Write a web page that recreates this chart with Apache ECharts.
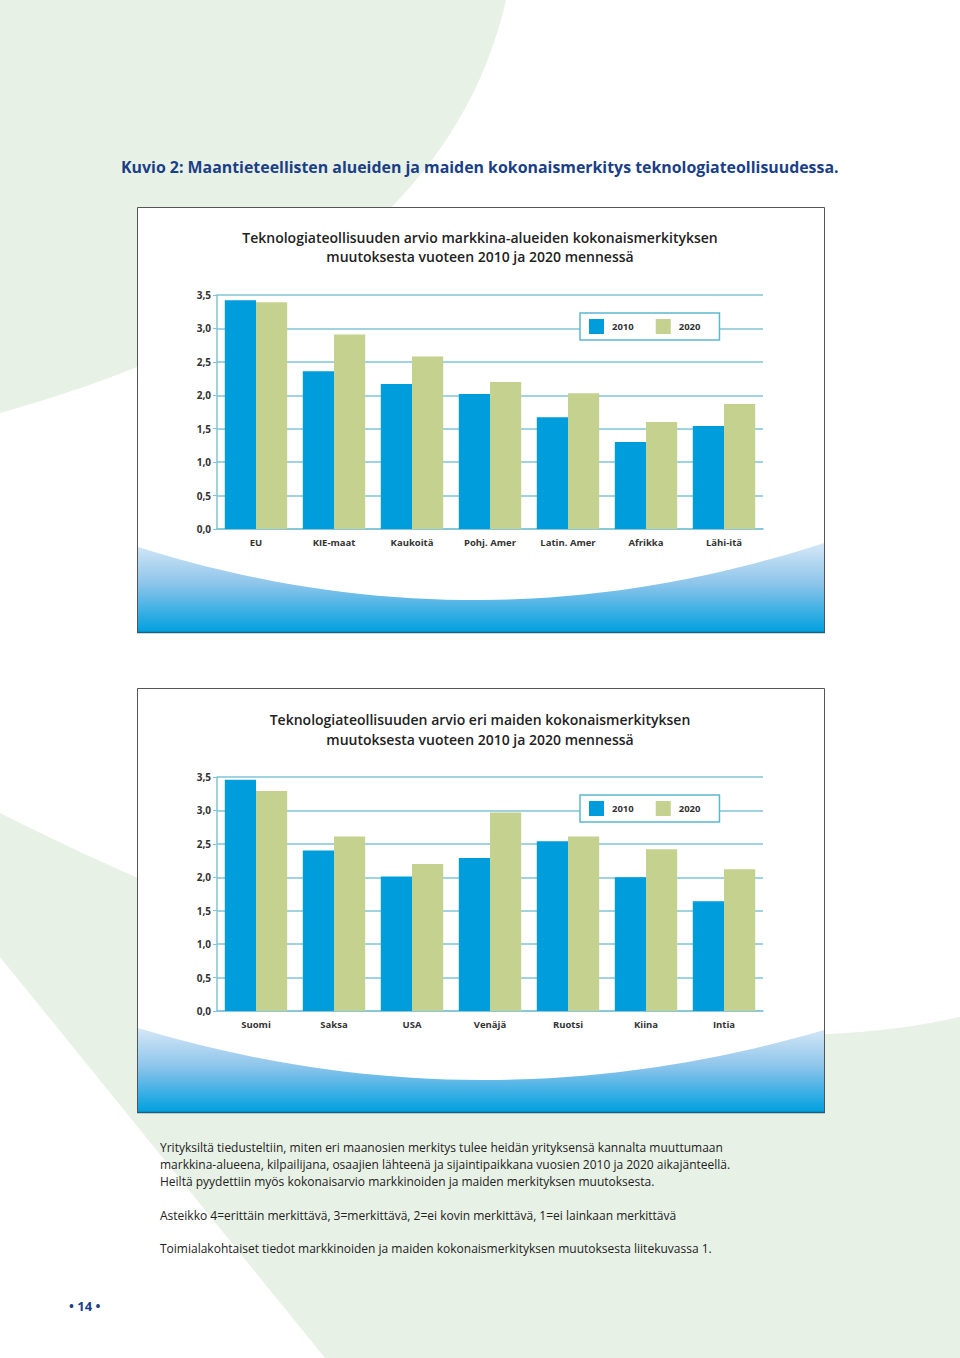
<!DOCTYPE html>
<html>
<head>
<meta charset="utf-8">
<script src="https://cdn.jsdelivr.net/npm/echarts@6/dist/echarts.min.js"></script>
<style>
  html, body { margin: 0; padding: 0; background: #fff; }
  #page { width: 960px; height: 1358px; }
</style>
</head>
<body>
<div id="page"></div>
<script>
// data
const years = ['2010', '2020']
const regions = ['EU', 'KIE-maat', 'Kaukoitä', 'Pohj. Amer', 'Latin. Amer', 'Afrikka', 'Lähi-itä']
const regions2010 = [3.42, 2.36, 2.17, 2.02, 1.67, 1.30, 1.54]
const regions2020 = [3.39, 2.91, 2.58, 2.20, 2.03, 1.60, 1.87]
const countries = ['Suomi', 'Saksa', 'USA', 'Venäjä', 'Ruotsi', 'Kiina', 'Intia']
const countries2010 = [3.46, 2.40, 2.01, 2.29, 2.54, 2.00, 1.64]
const countries2020 = [3.29, 2.61, 2.20, 2.97, 2.61, 2.42, 2.12]
const yTickLabels = ['0,0', '0,5', '1,0', '1,5', '2,0', '2,5', '3,0', '3,5']

const FONT = '"Open Sans", "Noto Sans", sans-serif'
const BLUE = '#009ddc'
const GREEN = '#c5d18f'
const TEAL = '#82c3d6'
const PAGE_GREEN = '#e8f1e6'

function xAxisFor(gridIndex, cats) {
  return {
    type: 'category',
    gridIndex: gridIndex,
    data: cats,
    axisLine: { lineStyle: { color: TEAL, width: 1.5 } },
    axisTick: { inside: true, length: 5, lineStyle: { color: TEAL } },
    axisLabel: { color: '#333', fontSize: 9.5, fontWeight: 'bold', fontFamily: FONT, margin: 8 }
  }
}

function yAxisFor(gridIndex) {
  return {
    type: 'value',
    gridIndex: gridIndex,
    min: 0,
    max: 3.5,
    interval: 0.5,
    axisLine: { show: true, lineStyle: { color: TEAL, width: 1.5 } },
    axisTick: { show: true, length: 4, lineStyle: { color: TEAL } },
    splitLine: { lineStyle: { color: TEAL, width: 1.5 } },
    axisLabel: {
      color: '#333', fontSize: 10, fontWeight: 'bold', fontFamily: FONT, margin: 6,
      formatter: v => yTickLabels[Math.round(v / 0.5)]
    }
  }
}

function legendAt(top) {
  return {
    left: 580,
    top: top,
    data: years,
    icon: 'rect',
    itemWidth: 15,
    itemHeight: 15,
    itemGap: 22,
    padding: [6, 19, 6, 9],
    backgroundColor: '#fff',
    borderColor: '#5cb7cf',
    borderWidth: 1.5,
    borderRadius: 0,
    selectedMode: false,
    textStyle: { color: '#333', fontSize: 9.5, fontWeight: 'bold', fontFamily: FONT, padding: [0, 0, 0, 3] }
  }
}

function barSeries(name, color, idx, values) {
  return {
    name: name,
    type: 'bar',
    xAxisIndex: idx,
    yAxisIndex: idx,
    barGap: '0%',
    barCategoryGap: '20%',
    itemStyle: { color: color },
    data: values
  }
}

function text(str, x, y, font, fill, align) {
  return {
    type: 'text',
    z: 10,
    style: { text: str, x: x, y: y, font: font, fill: fill, textAlign: align || 'left', textVerticalAlign: 'middle' }
  }
}

// points along a cubic bezier, for the decorative page shapes
function bezier(p0, p1, p2, p3, n) {
  const pts = []
  for (let i = 0; i <= n; i++) {
    const t = i / n, u = 1 - t
    pts.push([
      u * u * u * p0[0] + 3 * u * u * t * p1[0] + 3 * u * t * t * p2[0] + t * t * t * p3[0],
      u * u * u * p0[1] + 3 * u * u * t * p1[1] + 3 * u * t * t * p2[1] + t * t * t * p3[1]
    ])
  }
  return pts
}
function quad(p0, p1, p2, n) {
  return bezier(p0,
    [p0[0] + 2 / 3 * (p1[0] - p0[0]), p0[1] + 2 / 3 * (p1[1] - p0[1])],
    [p2[0] + 2 / 3 * (p1[0] - p2[0]), p2[1] + 2 / 3 * (p1[1] - p2[1])],
    p2, n)
}

// chart box with the blue wave at its bottom
function box(top, bottom, waveLeft, waveMid, waveRight) {
  const cy = 2 * (waveMid - (waveLeft + waveRight) / 4)
  const wave = quad([138, waveLeft], [480, cy], [824, waveRight], 40)
  wave.push([824, bottom], [138, bottom])
  return [
    {
      type: 'rect', z: -5,
      shape: { x: 137.5, y: top + 0.5, width: 687, height: bottom - top },
      style: { fill: '#fff', stroke: '#555', lineWidth: 1 }
    },
    {
      type: 'polygon', z: -4,
      shape: { points: wave },
      style: {
        fill: new echarts.graphic.LinearGradient(0, 0, 0, 1, [
          { offset: 0, color: '#d6e8f7' },
          { offset: 0.45, color: '#8ec5eb' },
          { offset: 1, color: '#00a0df' }
        ])
      }
    },
    {
      type: 'line', z: -3,
      shape: { x1: 137, y1: bottom + 0.5, x2: 825, y2: bottom + 0.5 },
      style: { stroke: '#1d5f7e', lineWidth: 1.5 }
    }
  ]
}

const topShape = [[0, 0]].concat(quad([506, 0], [440, 290], [0, 413], 40))
const bottomShape = bezier([0, 813], [350, 990], [700, 1075], [960, 1017], 50)
bottomShape.push([960, 1358], [325, 1358], [0, 957])

const titleFont = `600 14px ${FONT}`
const bodyFont = `12px ${FONT}`

const chart = echarts.init(document.getElementById('page'), null, { renderer: 'svg' })

chart.setOption({
  animation: false,
  backgroundColor: '#fff',
  textStyle: { fontFamily: FONT },
  grid: [
    { left: 217, right: 197, top: 295, height: 234 },
    { left: 217, right: 197, top: 777, height: 234 }
  ],
  xAxis: [xAxisFor(0, regions), xAxisFor(1, countries)],
  yAxis: [yAxisFor(0), yAxisFor(1)],
  legend: [legendAt(313), legendAt(795)],
  series: [
    barSeries(years[0], BLUE, 0, regions2010),
    barSeries(years[1], GREEN, 0, regions2020),
    barSeries(years[0], BLUE, 1, countries2010),
    barSeries(years[1], GREEN, 1, countries2020)
  ],
  graphic: [
    { type: 'polygon', z: -10, shape: { points: topShape }, style: { fill: PAGE_GREEN } },
    { type: 'polygon', z: -10, shape: { points: bottomShape }, style: { fill: PAGE_GREEN } },
    ...box(207, 632, 547, 600, 543),
    ...box(688, 1112, 1028, 1080, 1030),
    text('Kuvio 2: Maantieteellisten alueiden ja maiden kokonaismerkitys teknologiateollisuudessa.',
      121, 167, `bold 15.9px ${FONT}`, '#1b3f86'),
    text('Teknologiateollisuuden arvio markkina-alueiden kokonaismerkityksen', 480, 237, titleFont, '#222', 'center'),
    text('muutoksesta vuoteen 2010 ja 2020 mennessä', 480, 256, titleFont, '#222', 'center'),
    text('Teknologiateollisuuden arvio eri maiden kokonaismerkityksen', 480, 719, titleFont, '#222', 'center'),
    text('muutoksesta vuoteen 2010 ja 2020 mennessä', 480, 739, titleFont, '#222', 'center'),
    text('Yrityksiltä tiedusteltiin, miten eri maanosien merkitys tulee heidän yrityksensä kannalta muuttumaan',
      160, 1147, bodyFont, '#222'),
    text('markkina-alueena, kilpailijana, osaajien lähteenä ja sijaintipaikkana vuosien 2010 ja 2020 aikajänteellä.',
      160, 1164, bodyFont, '#222'),
    text('Heiltä pyydettiin myös kokonaisarvio markkinoiden ja maiden merkityksen muutoksesta.',
      160, 1181, bodyFont, '#222'),
    text('Asteikko 4=erittäin merkittävä, 3=merkittävä, 2=ei kovin merkittävä, 1=ei lainkaan merkittävä',
      160, 1215, bodyFont, '#222'),
    text('Toimialakohtaiset tiedot markkinoiden ja maiden kokonaismerkityksen muutoksesta liitekuvassa 1.',
      160, 1248, bodyFont, '#222'),
    text('• 14 •', 69, 1306, `bold 13px ${FONT}`, '#1b3f86')
  ]
})
</script>
</body>
</html>
